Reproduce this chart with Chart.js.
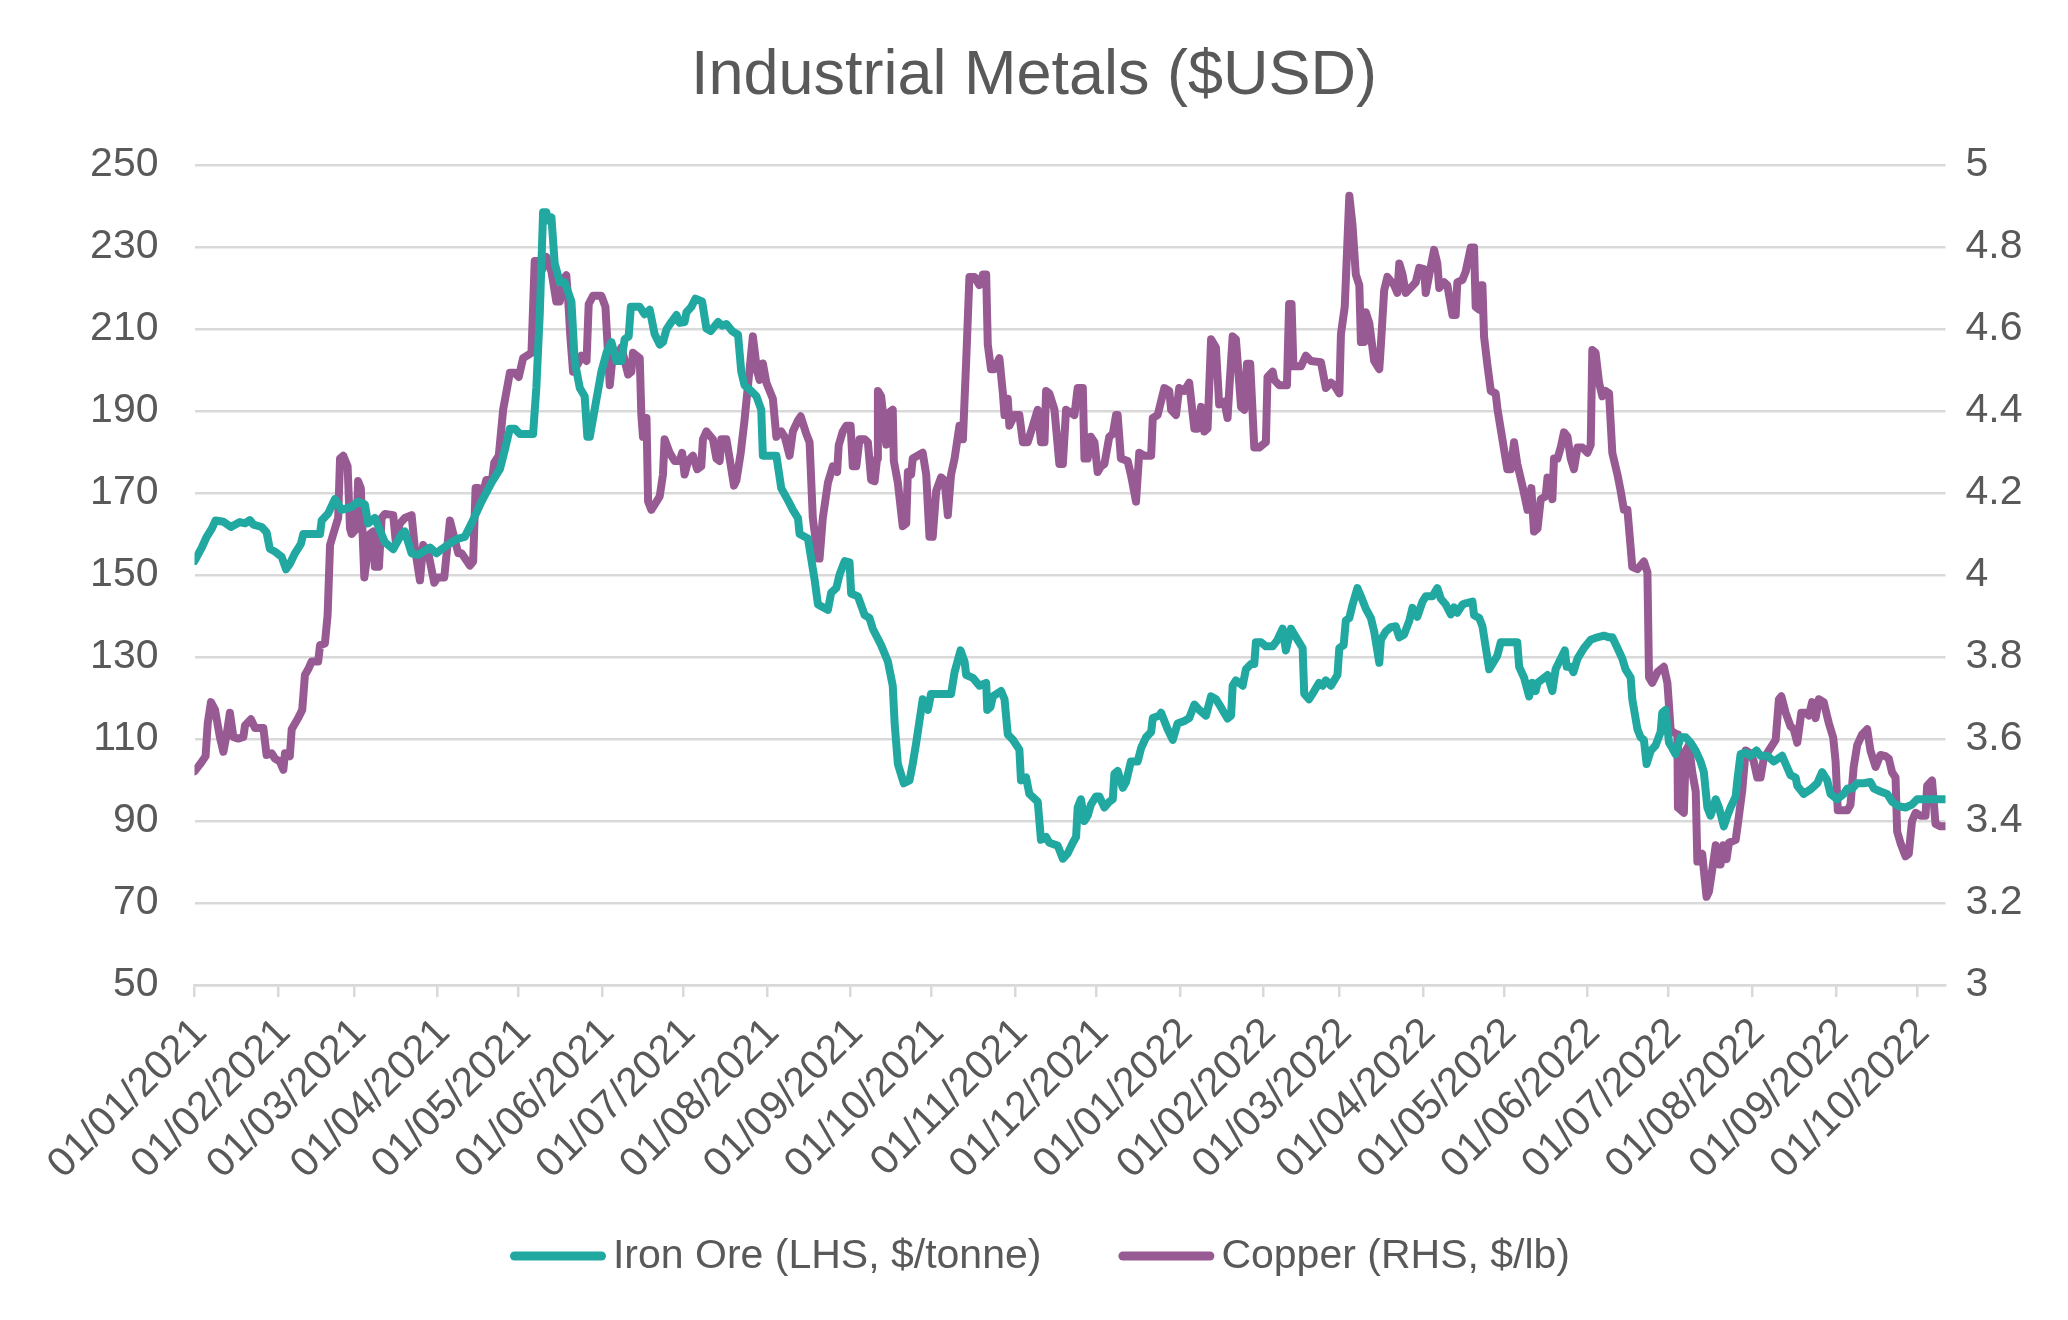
<!DOCTYPE html>
<html>
<head>
<meta charset="utf-8">
<script src="https://cdn.jsdelivr.net/npm/chart.js@4.4.0/dist/chart.umd.min.js"></script>
<style>
html,body{margin:0;padding:0;background:#ffffff;}
#wrap{width:2068px;height:1320px;}
</style>
</head>
<body>
<div id="wrap"><canvas id="c" width="2068" height="1320"></canvas></div>
<script>
const titleText = 'Industrial Metals ($USD)';
const seriesNames = ['Iron Ore (LHS, $/tonne)', 'Copper (RHS, $/lb)'];
const tickLabels = ['01/01/2021','01/02/2021','01/03/2021','01/04/2021','01/05/2021','01/06/2021','01/07/2021','01/08/2021','01/09/2021','01/10/2021','01/11/2021','01/12/2021','01/01/2022','01/02/2022','01/03/2022','01/04/2022','01/05/2022','01/06/2022','01/07/2022','01/08/2022','01/09/2022','01/10/2022'];
const lastDay = 648.5; // days after 01/01/2021 (last observation, ~11/10/2022)

// Iron ore: days since 01/01/2021 and $/tonne
const ironX = [0,2.7,4.5,6.4,7.8,10.7,13.5,16.8,18.7,20.5,21.8,24.9,26.7,27.9,29.8,32.3,33.9,35.3,37.2,39.4,40.3,46.5,47.1,49.5,52,54.5,58.2,60.6,63.1,64.3,66.8,70.5,73.6,76.7,77.9,80.4,82.8,87.2,89.6,91.5,95.2,97.7,100.1,102.6,106.3,110,113.1,114.9,116.8,118.6,120.5,125.4,126.6,127.9,129.1,130.3,131,132.2,133.4,135.3,137.1,139.6,140.8,142.7,144.5,145.5,146.4,148.9,150.7,152.6,154.4,156.3,158.1,159.3,160.8,161.6,164.9,166.7,168.6,170.4,172.3,173.5,174.8,176.6,178.5,179.7,181.5,182.2,184,185.5,188,189.6,191.2,193.9,195.4,197,199.1,201.3,202.5,203.7,206,208.1,209.9,210.5,215.5,217.3,219.8,221.6,223.5,224.1,227.2,229.7,230.9,234.6,235.8,237.7,238.9,240.8,242.6,243.2,245.7,248.2,250,251.2,254.3,256.8,258.6,259.3,260.5,262.7,264.8,266,267.3,269.7,271.6,272.8,280.2,281.5,283.7,285.2,285.8,288.3,290.7,293.2,293.6,294.8,295.7,298.7,300,301.2,303.1,305.5,306.1,308,309.2,312.3,313.5,315.4,316.6,319.7,321.6,323.4,325.3,326.5,327.1,328.3,329.6,330.8,332,333.9,335.1,337,338.8,340.1,340.7,341.9,343.8,345,346.8,349.3,350.6,352.4,354.3,354.9,357.3,358,360.4,362.3,364.1,366.6,368.4,370.3,372.1,374.6,376.5,378.3,380.2,382.6,383.9,384.5,385.7,388.2,389.4,391.3,392.5,393.1,395,396.8,399.3,401.1,403,404.2,406.1,407.3,410.4,411,412.8,414.7,416.5,417.8,419,420.9,423.3,424,425.6,426.4,427.7,428.9,430.7,432,433.8,435.7,436.9,438.8,439.4,441.2,443.1,444.9,446.2,448,449.9,451.1,452.9,454.8,456,458.5,460.3,461.6,463.4,465.3,466.5,467.7,469.6,470.8,473.3,473.9,475.8,477,479.5,481.3,482.5,483.8,489.9,490.6,492.4,494.3,495.5,496.7,497.4,501.1,502.9,504.1,506,507.5,508.2,509.7,510.7,512.2,514.6,517.1,519.6,522,523.9,525.1,527,528.8,530,531.9,532.5,534.4,535.6,536.8,537.8,539.3,541.1,543,543.6,544.8,546.1,547.3,548.5,550.4,552.3,554.1,556,557.8,559,560.3,561.5,563.4,564.6,566.4,567.7,568.9,570.8,571.4,572.6,574.5,576.3,578.5,580,582.5,584.9,588,589.3,591.1,593,593.6,596,598.5,601,602.8,604.7,605.9,608.4,610.8,612.1,613.9,615.8,618.2,620.7,622,624.4,626.9,628.7,631.2,633.7,636.1,638,640.5,645.4,648.5];
const ironY = [153.4,156.7,159.3,161.3,163.3,163,161.7,162.9,162.6,163.4,162.3,161.7,160.4,156.4,155.7,154.4,151.4,152.7,155.3,157.6,160,160,163.3,165,168.5,165.9,166.6,167.9,167.2,162.6,163.9,158,156.3,160,160.6,155.3,154.9,156.7,155.3,156.3,158,158.9,159.3,162.6,167.9,172.5,175.8,180.4,185.7,185.7,184.4,184.4,195.6,214.1,238.5,238.5,236.5,237.2,226,221.4,221.4,216.7,202.2,195.6,193.6,183.7,183.7,193,199.6,204.2,206.8,202.2,202.2,207.5,208.2,215.4,215.4,213.6,214.7,208.8,206.2,206.8,209.9,211.7,213.4,211.5,211.7,214.1,215.4,217.4,216.7,210.1,209.5,211.7,210.8,211.2,209.5,208.6,199.6,196.3,195,193.6,190.3,179.1,179.1,171.2,168.2,165.9,163.9,160,158.9,148.7,142.8,141.5,145.7,146.8,150.1,153.4,153.1,145.5,144.8,140.2,139.5,136.9,132.9,128.9,123,113.8,103.9,99.2,99.9,103.9,109.1,119.7,117.1,121,121,126.3,131.6,128.9,125.6,124.9,123,123.7,117.1,117.8,120.4,121.7,119.7,111.1,109.8,107.4,99.9,100.6,96.6,94.7,85.4,86.1,84.7,84,80.8,82.1,84.7,86.1,93.3,95.3,90,91.3,94,96,96,93.3,94.7,95.3,101.5,102.2,98.1,99.5,104.5,104.5,107.8,110.4,111.7,115.1,115.7,116.4,112.4,109.8,113.8,114.4,115.1,118.4,117.1,115.7,120.4,119.7,117.7,115,115.7,123,124.3,123,127,128.3,128.3,133.6,133.6,132.6,132.6,134.2,136.9,131.6,136.9,135.5,132.2,121,119.7,121.7,123.7,123,124.3,123,125.6,132.2,132.9,138.9,139.5,142.8,146.8,144.8,141.8,139.5,136.2,128.6,134.2,136.2,137.3,137.5,134.8,135.5,138.8,142,139.8,143.5,144.8,144.8,146.8,144.2,142.8,140.4,142.1,140.8,142.8,143.1,143.5,140.2,139.5,137.5,127,129,130.3,133.6,133.6,127.6,125,120.4,123.7,121.7,123.7,125.6,121.7,127,129.6,131.6,127.6,127.6,126.3,129.6,132.2,134.2,134.8,135.2,134.8,134.8,132.2,129.6,127,125,119.7,112.4,110.4,109.8,103.9,107.1,108.4,111.7,116.4,117.1,109.1,107.8,106.3,110.4,110.4,109.1,107.1,104.5,101.9,93.3,91.3,95.3,93.3,88.7,91.3,93.3,96,99.9,106.3,106.7,105.9,107.2,105.9,105.9,104.5,105.9,103.9,101.2,100.6,98.6,96.6,97.7,99.2,101.9,99.9,96.6,95.3,96.6,97.9,97.9,99.2,99.2,99.5,97.9,97.2,96.6,94.7,93.6,93.3,94,95.3,95.3,95.3,95.3];

// Copper: days since 01/01/2021 and $/lb
const copperX = [0,2,4.1,4.9,6.1,7.6,9.4,10.7,11.9,13.1,14.4,16.2,18.1,18.7,20.9,22.4,25.5,26.7,28.6,29.8,31.6,32.9,33.5,35.3,36,38.4,39.9,40.9,42.1,43.4,45.8,46.5,48.3,49.3,50.2,51.4,53.2,53.9,55.1,56.7,57.6,58.2,60,60.6,61.6,62.9,63.7,65,66.2,66.8,68.3,69.3,70.5,73.6,74.5,76.1,77.9,80.4,81.6,83.5,84.7,86.6,88.8,90,92.5,94.6,96.4,97.7,98.9,102,103.2,104.1,105.3,106.5,108.1,110.2,111,112.7,114.3,116.8,118.6,120.1,121.7,124.8,126,127.9,128.7,130.3,132.2,134,135.3,136.5,137.7,138.4,139.2,140.2,142.1,143.3,145.2,146,147.6,150.7,152.2,153.8,155,156.9,158.1,160.6,161.8,162.4,164.9,165.5,166.1,167.4,168,169.2,172.3,173.5,174.1,176,177.8,179.7,180.6,181.5,182.8,184.6,186.2,187.7,188.3,189.6,192,193.3,194.5,195.1,197,198.2,199.8,200.7,202.3,203.7,206.8,208.4,209.3,210.5,211.8,214.2,215.5,217.3,218.6,220.4,221.6,223.5,224.5,226.6,227.8,229,230.9,231.5,232.7,234.6,236.4,238,238.6,240.1,241.4,243,243.8,245.1,246.3,248.2,249.4,250.6,251.9,252.8,253.1,254.3,256.2,257.4,258.6,259,260.5,262.3,263.6,264.2,265.4,266,269.7,271,272.2,273.4,274.7,276.5,277.8,279,280.2,281.5,283.3,284.6,285.8,287,288.9,290.7,292,293.2,293.8,295,296.3,298.1,299.4,300,301.2,301.8,303.7,305.5,306.8,308.6,310.5,312.3,313.5,314.8,315.4,316.6,318.5,320.3,321.6,322.8,325.9,327.1,329,329.6,330.8,332,333.3,334.5,335.7,337,338.8,340.1,341.3,341.9,343.1,345.6,346.8,348.7,349.9,351.8,354.3,354.9,356.7,359.2,361,361.7,363.5,364.7,366.6,368.4,370.3,371.5,372.8,374,375.2,376.5,378.3,379.5,381.4,382.6,383.2,384.5,385.7,387.6,388.8,389.8,391,392.5,394.3,396.8,397.4,399.3,399.9,401.7,404.6,405.4,406.3,407,409.8,411.6,413.5,417.2,419,420.9,422.1,424,424.6,426,427.7,428.9,430.1,431.4,432,433.2,433.8,435.1,436.9,438.8,439.4,440.6,441.8,444.3,445.5,446.2,447.4,448.6,450.5,452.3,453.6,455.4,456,457.9,459.1,460.3,461,462.8,464,465.9,467.1,467.7,469.6,470.8,472.7,473.9,474.5,475.8,476.4,477,477.6,478.9,480.1,481.9,482.6,486.2,487.5,488.7,489.9,491.8,493.7,495.1,496.1,497.4,498.6,500.4,501.1,502.9,503.5,504.8,506,507.2,508.5,509.7,510.9,512.2,514,515.9,517.1,517.7,518.9,520.2,521.4,522.6,523.9,525.1,527,528.2,529.4,530.7,531.3,532.5,534.4,536.8,538.1,538.7,539.9,541.8,544.2,545.5,546.7,547.3,549.2,549.4,551.6,552.3,553.5,554.7,556,556.6,558.4,560,560.9,562.1,563.4,564.6,565.2,566.2,567.4,568.3,570.8,572,573.2,574.5,576.3,577.5,578.8,580,581.2,583.1,585.6,586.8,587.7,589.3,591.1,592.3,593.6,595.1,596.7,597.9,599.1,600.4,601.6,603.4,605.3,606.9,607.8,608.6,610.2,612.1,613.3,614.5,615.8,617.6,619.5,620.7,622.6,624.4,626.3,627.5,628.7,630,630.6,631.8,633.7,634.9,636.1,637.4,639.2,641.1,641.7,643.5,644.8,646.6,648.5];
const copperY = [3.521,3.538,3.558,3.638,3.69,3.671,3.605,3.569,3.611,3.664,3.605,3.601,3.605,3.633,3.648,3.627,3.627,3.561,3.565,3.552,3.545,3.525,3.565,3.558,3.624,3.651,3.671,3.756,3.77,3.789,3.789,3.829,3.833,3.902,4.073,4.1,4.139,4.284,4.291,4.265,4.113,4.1,4.113,4.229,4.212,3.994,4.034,4.1,4.106,4.02,4.02,4.139,4.149,4.146,4.084,4.126,4.139,4.146,4.067,3.987,4.073,4.053,3.981,3.994,3.994,4.133,4.086,4.053,4.053,4.023,4.033,4.212,4.212,4.192,4.232,4.232,4.274,4.291,4.403,4.493,4.493,4.483,4.529,4.542,4.766,4.766,4.744,4.776,4.74,4.667,4.667,4.72,4.731,4.67,4.581,4.496,4.516,4.535,4.522,4.661,4.681,4.681,4.654,4.463,4.542,4.535,4.555,4.489,4.496,4.542,4.529,4.39,4.337,4.383,4.179,4.159,4.192,4.245,4.331,4.298,4.278,4.278,4.298,4.245,4.278,4.291,4.258,4.265,4.331,4.35,4.331,4.284,4.278,4.331,4.331,4.284,4.218,4.231,4.298,4.377,4.582,4.496,4.476,4.516,4.469,4.43,4.337,4.35,4.337,4.291,4.35,4.377,4.387,4.344,4.324,4.139,4.04,4.04,4.139,4.225,4.265,4.251,4.317,4.35,4.364,4.364,4.265,4.265,4.331,4.331,4.324,4.232,4.229,4.284,4.449,4.436,4.318,4.397,4.403,4.278,4.225,4.119,4.126,4.251,4.245,4.284,4.298,4.245,4.093,4.093,4.205,4.238,4.231,4.146,4.245,4.284,4.364,4.331,4.522,4.727,4.727,4.707,4.733,4.733,4.562,4.502,4.502,4.529,4.443,4.39,4.43,4.364,4.39,4.39,4.324,4.324,4.364,4.403,4.324,4.324,4.449,4.443,4.403,4.271,4.271,4.403,4.39,4.456,4.456,4.284,4.284,4.337,4.324,4.251,4.265,4.271,4.337,4.344,4.39,4.39,4.284,4.278,4.245,4.179,4.298,4.291,4.291,4.383,4.39,4.456,4.449,4.403,4.39,4.456,4.449,4.469,4.357,4.357,4.41,4.35,4.357,4.575,4.555,4.416,4.423,4.383,4.449,4.582,4.575,4.41,4.403,4.515,4.515,4.311,4.311,4.324,4.483,4.496,4.476,4.463,4.463,4.661,4.661,4.509,4.509,4.535,4.522,4.519,4.456,4.469,4.463,4.443,4.588,4.654,4.925,4.852,4.733,4.707,4.568,4.568,4.641,4.614,4.522,4.502,4.562,4.694,4.727,4.707,4.688,4.76,4.733,4.688,4.701,4.714,4.749,4.746,4.688,4.753,4.793,4.76,4.7,4.714,4.707,4.634,4.634,4.714,4.72,4.74,4.799,4.799,4.654,4.647,4.707,4.707,4.581,4.509,4.449,4.443,4.403,4.258,4.258,4.324,4.271,4.218,4.159,4.212,4.106,4.113,4.185,4.192,4.238,4.185,4.284,4.284,4.311,4.348,4.337,4.284,4.258,4.311,4.311,4.298,4.317,4.549,4.542,4.469,4.436,4.449,4.443,4.298,4.245,4.205,4.159,4.159,4.113,4.02,4.014,4.033,4.007,3.75,3.737,3.763,3.776,3.737,3.624,3.618,3.611,3.433,3.42,3.572,3.585,3.519,3.472,3.301,3.32,3.215,3.228,3.281,3.341,3.294,3.294,3.341,3.307,3.347,3.354,3.413,3.473,3.572,3.565,3.545,3.506,3.506,3.552,3.572,3.598,3.697,3.704,3.664,3.631,3.624,3.591,3.664,3.664,3.657,3.69,3.651,3.697,3.69,3.638,3.604,3.545,3.426,3.426,3.426,3.439,3.532,3.585,3.611,3.624,3.572,3.532,3.561,3.558,3.552,3.519,3.506,3.374,3.347,3.314,3.32,3.4,3.42,3.413,3.413,3.486,3.499,3.393,3.387,3.387];

const FONT = '"Liberation Sans", Arial, Helvetica, sans-serif';
const TEXT = '#595959';
const GRID = '#d9d9d9';
const IRON_COLOR = '#21a8a1';
const COPPER_COLOR = '#985a93';

const startMs = Date.UTC(2021, 0, 1);
function dayOf(label) {
  const p = label.split('/').map(Number);
  return (Date.UTC(p[2], p[1] - 1, p[0]) - startMs) / 86400000;
}
const tickDays = tickLabels.map(dayOf);

Chart.defaults.font.family = FONT;
Chart.defaults.color = TEXT;

const legendPlugin = {
  id: 'bottomLegend',
  afterDraw(chart) {
    const c = chart.ctx;
    c.save();
    c.font = '41px ' + FONT;
    const items = chart.data.datasets.map(ds => ({label: ds.label, color: ds.borderColor, w: c.measureText(ds.label).width}));
    const lineW = 96, gapT = 7, gapI = 77;
    const total = items.reduce((s, it) => s + lineW + gapT + it.w, 0) + gapI * (items.length - 1);
    let x = chart.width / 2 - total / 2 + 6;
    const y = chart.height - 64;
    items.forEach(it => {
      c.strokeStyle = it.color;
      c.lineWidth = 9;
      c.lineCap = 'round';
      c.beginPath();
      c.moveTo(x + 4.5, y);
      c.lineTo(x + lineW - 4.5, y);
      c.stroke();
      c.fillStyle = TEXT;
      c.textAlign = 'left';
      c.textBaseline = 'middle';
      c.fillText(it.label, x + lineW + gapT, y + 1);
      x += lineW + gapT + it.w + gapI;
    });
    c.restore();
  }
};

new Chart(document.getElementById('c'), {
  type: 'line',
  data: {
    datasets: [
      {
        label: seriesNames[0],
        data: ironX.map((x, i) => ({x: x, y: ironY[i]})),
        yAxisID: 'y',
        borderColor: IRON_COLOR,
        backgroundColor: IRON_COLOR,
        borderWidth: 8,
        pointRadius: 0,
        tension: 0,
        borderJoinStyle: 'round',
        borderCapStyle: 'round'
      },
      {
        label: seriesNames[1],
        data: copperX.map((x, i) => ({x: x, y: copperY[i]})),
        yAxisID: 'y1',
        borderColor: COPPER_COLOR,
        backgroundColor: COPPER_COLOR,
        borderWidth: 8,
        pointRadius: 0,
        tension: 0,
        borderJoinStyle: 'round',
        borderCapStyle: 'round'
      }
    ]
  },
  options: {
    responsive: false,
    animation: false,
    devicePixelRatio: 1,
    layout: {padding: {left: 0, right: 0, top: 0, bottom: 0}},
    plugins: {
      legend: {display: false},
      tooltip: {enabled: false},
      title: {
        display: true,
        text: titleText,
        color: TEXT,
        font: {size: 63, weight: 'normal', family: FONT, lineHeight: 1.2},
        padding: {top: 39, bottom: 50.4}
      }
    },
    scales: {
      x: {
        type: 'linear',
        min: 0,
        max: lastDay,
        afterBuildTicks: s => { s.ticks = tickDays.map(v => ({value: v})); },
        afterFit: s => { s.height = 335; s.paddingLeft = 0; s.paddingRight = 0; },
        ticks: {
          autoSkip: false,
          minRotation: 45,
          maxRotation: 45,
          labelOffset: 6,
          padding: 12,
          color: TEXT,
          font: {size: 41, family: FONT},
          callback: (v, i) => tickLabels[i]
        },
        grid: {drawOnChartArea: false, color: GRID, lineWidth: 2.5, tickLength: 12},
        border: {display: true, color: GRID, width: 2.5}
      },
      y: {
        position: 'left',
        min: 50,
        max: 250,
        afterFit: s => { s.width = 194.5; },
        ticks: {stepSize: 20, padding: 36, color: TEXT, font: {size: 41, family: FONT}},
        grid: {color: GRID, lineWidth: 2.5, drawTicks: false},
        border: {display: false}
      },
      y1: {
        position: 'right',
        min: 3,
        max: 5,
        afterFit: s => { s.width = 122.5; },
        ticks: {
          stepSize: 0.2, padding: 20, color: TEXT, font: {size: 41, family: FONT},
          callback: v => String(Math.round(v * 10) / 10)
        },
        grid: {drawOnChartArea: false, drawTicks: false},
        border: {display: false}
      }
    }
  },
  plugins: [legendPlugin]
});
</script>
</body>
</html>
